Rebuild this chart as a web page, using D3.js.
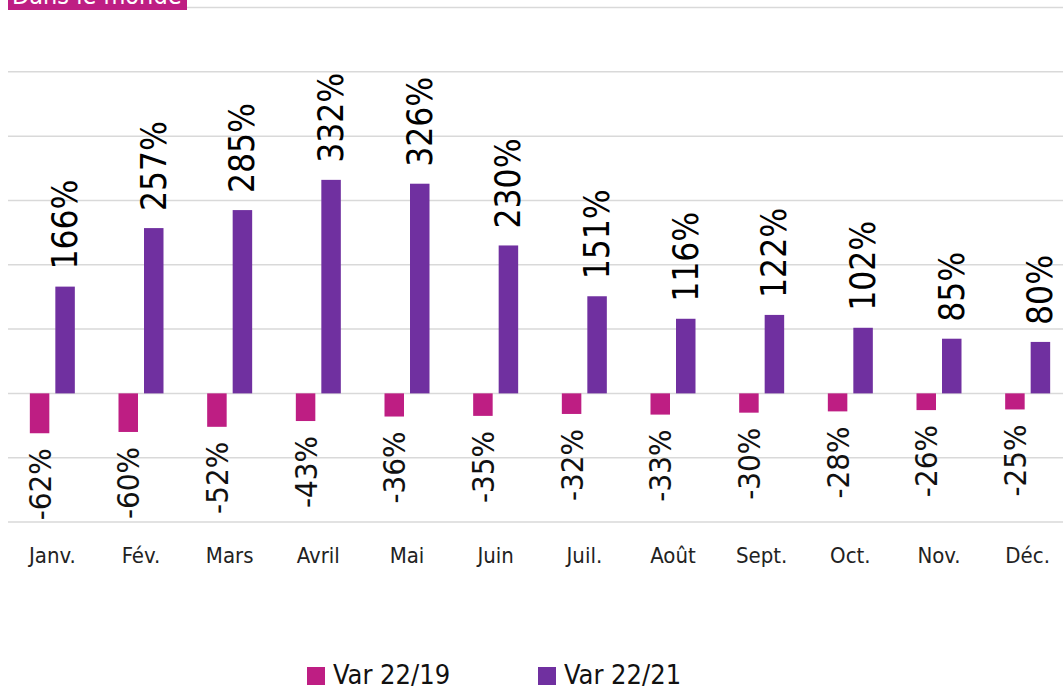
<!DOCTYPE html>
<html>
<head>
<meta charset="utf-8">
<script src="https://cdn.jsdelivr.net/npm/d3@7"></script>
<style>
  body { margin: 0; background: #fff; }
  .chart { width: 1063px; height: 691px; overflow: hidden; }
  text { font-family: "DejaVu Sans Condensed", "DejaVu Sans", sans-serif; }
</style>
</head>
<body>
<div class="chart"></div>
<script>
const months = ['Janv.', 'Fév.', 'Mars', 'Avril', 'Mai', 'Juin', 'Juil.', 'Août', 'Sept.', 'Oct.', 'Nov.', 'Déc.'];
const var2219 = [-62, -60, -52, -43, -36, -35, -32, -33, -30, -28, -26, -25];
const var2221 = [166, 257, 285, 332, 326, 230, 151, 116, 122, 102, 85, 80];
const gridTicks = [-200, -100, 0, 100, 200, 300, 400, 500, 600];
const seriesNames = ['Var 22/19', 'Var 22/21'];

const colors = { v19: '#be1e83', v21: '#7030a0' };

const svg = d3.select('.chart')
  .append('svg')
  .attr('width', 1063)
  .attr('height', 691);

const xScale = d3.scaleBand()
  .domain(months)
  .range([8, 1072]);

const yScale = d3.scaleLinear()
  .domain([-200, 600])
  .range([522, 7.5]);

// gridlines
svg.append('g')
  .selectAll('line')
  .data(gridTicks)
  .enter()
  .append('line')
  .attr('x1', 8)
  .attr('x2', 1063)
  .attr('y1', d => yScale(d))
  .attr('y2', d => yScale(d))
  .style('stroke', '#d9d9d9')
  .style('stroke-width', 1.5);

// title tag, cut off at the top like the source
svg.append('rect')
  .attr('x', 8)
  .attr('y', -25)
  .attr('width', 179)
  .attr('height', 35)
  .style('fill', colors.v19);

svg.append('text')
  .attr('x', 12)
  .attr('y', 4)
  .style('fill', 'white')
  .style('font-size', '25px')
  .text('Dans le monde');

const barW = 19.5;
const gap = 3;

const groups = svg.selectAll('.month')
  .data(months)
  .enter()
  .append('g')
  .classed('month', true)
  .attr('transform', d => `translate(${xScale(d) + xScale.bandwidth() / 2}, 0)`);

// Var 22/19 bars (negative)
groups.append('rect')
  .attr('x', -gap - barW)
  .attr('width', barW)
  .attr('y', (d, i) => yScale(Math.max(0, var2219[i])))
  .attr('height', (d, i) => Math.abs(yScale(var2219[i]) - yScale(0)))
  .style('fill', colors.v19);

// Var 22/21 bars
groups.append('rect')
  .attr('x', gap)
  .attr('width', barW)
  .attr('y', (d, i) => yScale(var2221[i]))
  .attr('height', (d, i) => yScale(0) - yScale(var2221[i]))
  .style('fill', colors.v21);

// labels for 22/21, rotated, above bars
groups.append('text')
  .attr('transform', (d, i) => `translate(${gap + barW / 2 + 12}, ${yScale(var2221[i]) - 17}) rotate(-90)`)
  .attr('text-anchor', 'start')
  .style('font-size', '35px')
  .style('fill', '#000')
  .text((d, i) => var2221[i] + '%');

// labels for 22/19, rotated, below bars
groups.append('text')
  .attr('transform', (d, i) => `translate(${-gap - barW / 2 + 11}, ${yScale(var2219[i]) + 15}) rotate(-90)`)
  .attr('text-anchor', 'end')
  .style('font-size', '31px')
  .style('fill', '#111')
  .text((d, i) => var2219[i] + '%');

// month axis labels
groups.append('text')
  .attr('y', 563)
  .attr('text-anchor', 'middle')
  .style('font-size', '22px')
  .style('fill', '#222')
  .text(d => d);

// legend
const legend = svg.selectAll('.legend')
  .data(seriesNames)
  .enter()
  .append('g')
  .classed('legend', true)
  .attr('transform', (d, i) => `translate(${307 + i * 231}, 667)`);

legend.append('rect')
  .attr('width', 18)
  .attr('height', 18)
  .style('fill', (d, i) => i === 0 ? colors.v19 : colors.v21);

legend.append('text')
  .attr('x', 26)
  .attr('y', 17)
  .style('font-size', '27px')
  .style('fill', '#111')
  .text(d => d);
</script>
</body>
</html>
